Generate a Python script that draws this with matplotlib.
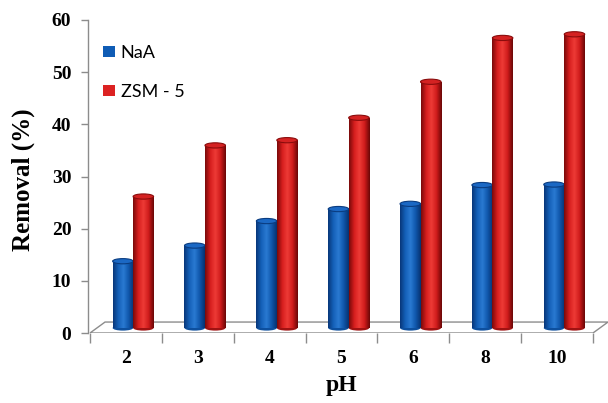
import numpy as np
import matplotlib
matplotlib.use("Agg")
import matplotlib.pyplot as plt
from matplotlib.patches import Polygon, Ellipse, Patch
from matplotlib.colors import LinearSegmentedColormap

ph_labels = ["2", "3", "4", "5", "6", "8", "10"]
naa = [12.8, 15.8, 20.5, 22.8, 23.8, 27.4, 27.5]
zsm5 = [25.2, 35.0, 36.0, 40.3, 47.2, 55.6, 56.3]

# fake 3D look: floor depth and where the cylinders stand on it
DEPTH_X = 0.209
DEPTH_Y = 2.1
BASE = 0.96
SHIFT = 0.1
BAR_W = 0.285
CAP_H = 1.0

blue_cmap = LinearSegmentedColormap.from_list(
    "blue_cyl", ["#08377a", "#1460b8", "#2a7ad2", "#1057ac", "#073270"])
red_cmap = LinearSegmentedColormap.from_list(
    "red_cyl", ["#7a0a0a", "#d61e1e", "#ee3b36", "#cf1b1b", "#6a0707"])

series = [
    ("NaA", naa, blue_cmap, "#0d4f9e", "#1b68c4", "#0a3c80", "#0f5cb5", -BAR_W),
    ("ZSM - 5", zsm5, red_cmap, "#a01212", "#d42222", "#8a0c0c", "#dc2222", 0.0),
]

fig = plt.figure(figsize=(6.08, 4.03), dpi=100)
ax = fig.add_axes([88 / 608, 70 / 403, 520 / 608, 313 / 403])

x = np.arange(len(ph_labels))
grad = np.linspace(0, 1, 64).reshape(1, -1)

# floor of the 3D plot
floor = Polygon([(-0.5, 0), (6.5, 0), (6.5 + DEPTH_X, DEPTH_Y), (-0.5 + DEPTH_X, DEPTH_Y)],
                closed=True, facecolor="white", edgecolor="#8c8c8c", lw=1.0, zorder=1)
ax.add_patch(floor)

for k, (name, vals, cmap, bot_col, top_col, rim_col, leg_col, off) in enumerate(series):
    z = 2 + 3 * k
    left = x + SHIFT + off
    bars = ax.bar(left, vals, width=BAR_W, bottom=BASE, align="edge",
                  facecolor="none", edgecolor="none", zorder=z + 1)
    for b, v in zip(bars, vals):
        x0 = b.get_x()
        x1 = x0 + b.get_width()
        xc = x0 + b.get_width() / 2
        ax.add_patch(Ellipse((xc, BASE), b.get_width(), CAP_H,
                             facecolor=bot_col, edgecolor="none", zorder=z))
        im = ax.imshow(grad, cmap=cmap, extent=[x0, x1, BASE, BASE + v],
                       aspect="auto", zorder=z + 1, interpolation="bilinear")
        im.set_clip_path(b)
        ax.add_patch(Ellipse((xc, BASE + v), b.get_width(), CAP_H,
                             facecolor=top_col, edgecolor=rim_col, lw=0.8, zorder=z + 2))

ax.set_xlim(-0.528, 6.709)
ax.set_ylim(0, 60)

for s in ["top", "right", "bottom"]:
    ax.spines[s].set_visible(False)
ax.spines["left"].set_color("#8c8c8c")
ax.spines["left"].set_linewidth(1.0)

ax.set_yticks(np.arange(0, 61, 10))
ax.tick_params(axis="y", length=5, width=1, color="#8c8c8c", pad=7,
               labelsize=14)
for t in ax.get_yticklabels():
    t.set_fontfamily("Liberation Serif")
    t.set_fontweight("bold")

# category boundaries as ticks, labels in the middle
ax.set_xticks(np.arange(-0.5, 7, 1))
ax.set_xticklabels([])
ax.tick_params(axis="x", which="major", length=7, width=1, color="#8c8c8c")
ax.set_xticks(x, minor=True)
ax.set_xticklabels(ph_labels, minor=True)
ax.tick_params(axis="x", which="minor", length=0, pad=12, labelsize=14)
for t in ax.get_xticklabels(minor=True):
    t.set_fontfamily("Liberation Serif")
    t.set_fontweight("bold")

fig.text(23 / 608, 223 / 403, "Removal (%)", rotation=90, ha="center", va="center",
         fontsize=18, fontweight="bold", family="Liberation Serif")
fig.text(342 / 608, 18 / 403, "pH", ha="center", va="center",
         fontsize=17, fontweight="bold", family="Liberation Serif")

handles = [Patch(facecolor=s[6], edgecolor="none", label=s[0]) for s in series]
fig.legend(handles=handles, loc="upper left", bbox_to_anchor=(103 / 608, 1 - 45 / 403),
           frameon=False, prop={"family": "Lato", "size": 13},
           handlelength=0.68, handleheight=0.55, handletextpad=0.3,
           labelspacing=1.25, borderpad=0, borderaxespad=0)

fig.savefig("out.png", dpi=100)
